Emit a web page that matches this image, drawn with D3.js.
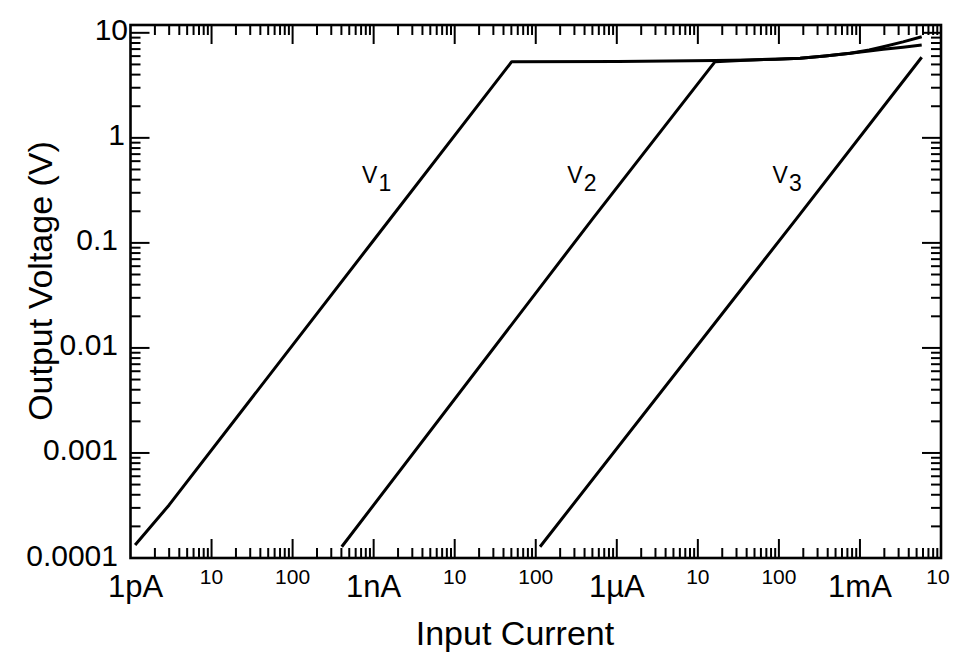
<!DOCTYPE html>
<html>
<head>
<meta charset="utf-8">
<script src="https://cdn.jsdelivr.net/npm/d3@7"></script>
<style>
  html, body { margin: 0; padding: 0; background: #fff; }
  svg { display: block; font-family: "Liberation Sans", Arial, Helvetica, sans-serif; }
</style>
</head>
<body>
<svg id="chart" width="966" height="668"></svg>
<script>
// ---- data ----
const v1Current = [1.14e-12, 3e-12, 1e-9, 5.05e-8, 1.04e-6, 1.63e-5, 4.42e-5, 9.0e-5, 1.83e-4, 3.72e-4, 7.59e-4, 1.3e-3, 1.94e-3, 3.4e-3, 5.78e-3];
const v1Voltage = [1.33e-4, 3.2e-4, 0.106, 5.31, 5.33, 5.45, 5.51, 5.61, 5.73, 6.02, 6.38, 6.85, 7.38, 8.2, 9.16];
const v2Current = [4.04e-10, 5.08e-7, 1.63e-5, 4.42e-5, 9.0e-5, 1.83e-4, 3.72e-4, 7.59e-4, 1.3e-3, 1.94e-3, 3.4e-3, 5.78e-3];
const v2Voltage = [1.28e-4, 0.1714, 5.31, 5.51, 5.61, 5.73, 6.02, 6.38, 6.7, 6.96, 7.3, 7.66];
const v3Current = [1.13e-7, 1.66e-4, 5.78e-3];
const v3Voltage = [1.28e-4, 0.1714, 5.85];

const seriesNames = ["V", "V", "V"];
const seriesSubs = ["1", "2", "3"];
const labelAt = [[7.2e-10, 0.37], [2.45e-7, 0.37], [8.36e-5, 0.37]]; // label anchor (current, voltage)

const xMajorTicks = [1e-12, 1e-11, 1e-10, 1e-9, 1e-8, 1e-7, 1e-6, 1e-5, 1e-4, 1e-3, 1e-2];
const xTickLabels = ["1pA", "10", "100", "1nA", "10", "100", "1µA", "10", "100", "1mA", "10"];
const xTickBig    = [true, false, false, true, false, false, true, false, false, true, false];
const yMajorTicks = [1e-4, 1e-3, 1e-2, 1e-1, 1, 10];
const yTickLabels = ["0.0001", "0.001", "0.01", "0.1", "1", "10"];

const xTitle = "Input Current";
const yTitle = "Output Voltage (V)";

// ---- layout ----
const svg = d3.select("#chart");
const L = 130.5, R = 941, T = 25, B = 558;
const x = d3.scaleLog().domain([1e-12, 1e-2]).range([L, R]);
const y = d3.scaleLog().domain([1e-4, 11.87]).range([B, T]);
const yLabelRight = [118, 118, 118, 118, 125, 128];

// minor tick values
const xMinor = [];
for (let e = -12; e < -2; e++) for (let m = 2; m <= 9; m++) xMinor.push(m * Math.pow(10, e));
const yMinor = [];
for (let e = -4; e <= 1; e++) for (let m = 2; m <= 9; m++) { const v = m * Math.pow(10, e); if (v <= 11.87) yMinor.push(v); }

const g = svg.append("g");
const tickW = 2;

function xTicks(vals, len) {
  vals.forEach(v => {
    const px = x(v);
    g.append("line").attr("x1", px).attr("x2", px).attr("y1", B).attr("y2", B - len)
      .attr("stroke", "#000").attr("stroke-width", tickW);
    g.append("line").attr("x1", px).attr("x2", px).attr("y1", T).attr("y2", T + len)
      .attr("stroke", "#000").attr("stroke-width", tickW);
  });
}
function yTicks(vals, len) {
  vals.forEach(v => {
    const py = y(v);
    g.append("line").attr("x1", L).attr("x2", L + len).attr("y1", py).attr("y2", py)
      .attr("stroke", "#000").attr("stroke-width", tickW);
    g.append("line").attr("x1", R).attr("x2", R - len).attr("y1", py).attr("y2", py)
      .attr("stroke", "#000").attr("stroke-width", tickW);
  });
}
xTicks(xMinor, 10);
xTicks(xMajorTicks.slice(1, -1), 19);
yTicks(yMinor, 10);
yTicks(yMajorTicks.slice(1), 19);

// frame
g.append("rect").attr("x", L).attr("y", T).attr("width", R - L).attr("height", B - T)
  .attr("fill", "none").attr("stroke", "#000").attr("stroke-width", 2.6);

// x tick labels
xMajorTicks.forEach((v, i) => {
  const big = xTickBig[i];
  let px = x(v);
  if (i === 0) px += 5;
  if (i === xMajorTicks.length - 1) px -= 3;
  g.append("text").attr("x", px).attr("y", big ? 597 : 584)
    .attr("text-anchor", "middle")
    .attr("font-size", big ? 31 : 21)
    .text(xTickLabels[i]);
});

// y tick labels
yMajorTicks.forEach((v, i) => {
  g.append("text").attr("x", yLabelRight[i]).attr("y", y(v) - 3).attr("dy", "0.35em")
    .attr("text-anchor", "end").attr("font-size", 30)
    .text(yTickLabels[i]);
});

// axis titles
g.append("text").attr("x", 515).attr("y", 645).attr("text-anchor", "middle")
  .attr("font-size", 34).text(xTitle);
g.append("text").attr("transform", "translate(52,281) rotate(-90)")
  .attr("text-anchor", "middle").attr("font-size", 34).text(yTitle);

// curves
const line = d3.line().x(d => x(d[0])).y(d => y(d[1]));
const series = [
  d3.zip(v1Current, v1Voltage),
  d3.zip(v2Current, v2Voltage),
  d3.zip(v3Current, v3Voltage)
];
series.forEach(s => {
  g.append("path").attr("d", line(s)).attr("fill", "none")
    .attr("stroke", "#000").attr("stroke-width", 3).attr("stroke-linejoin", "round");
});

// series labels
seriesNames.forEach((name, i) => {
  const t = g.append("text")
    .attr("x", x(labelAt[i][0])).attr("y", y(labelAt[i][1]))
    .attr("font-size", 23);
  t.append("tspan").text(name);
  t.append("tspan").attr("dy", 8).attr("dx", 1).text(seriesSubs[i]);
});
</script>
</body>
</html>
